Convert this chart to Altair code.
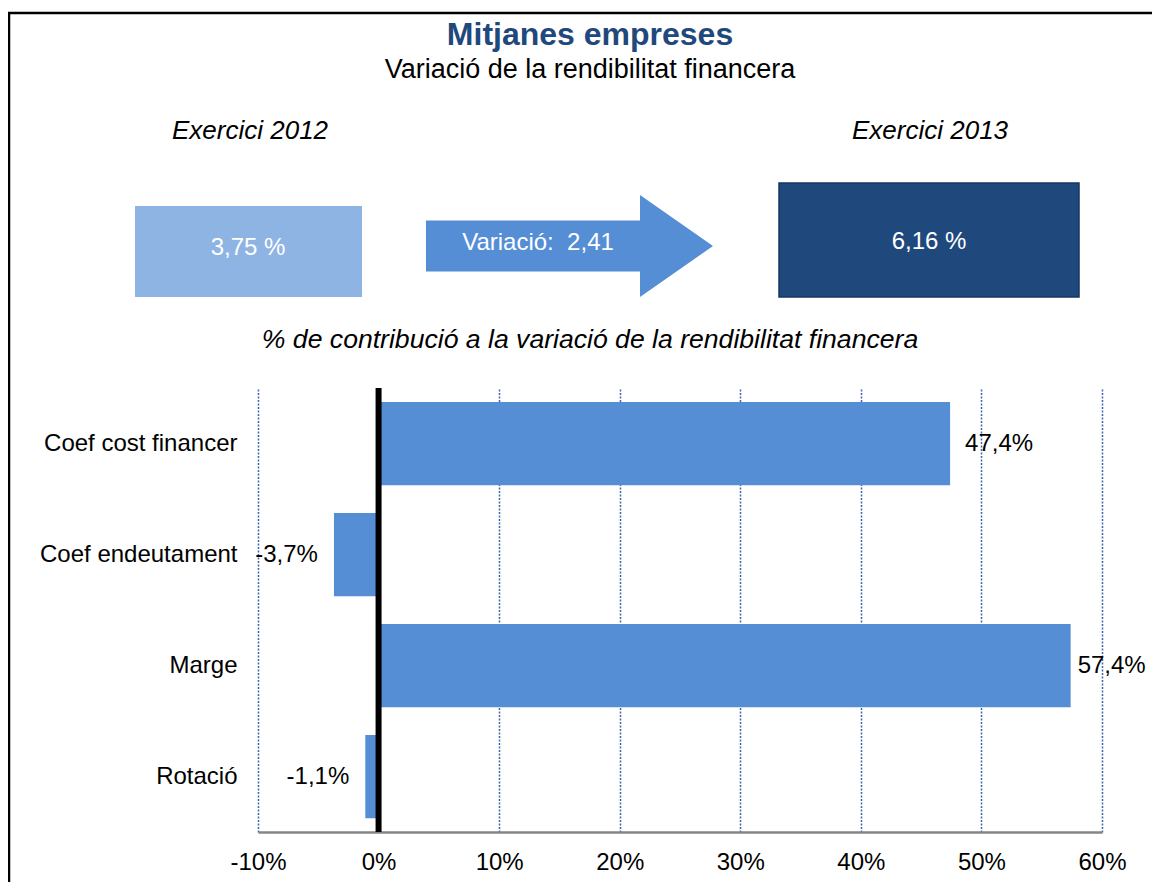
import altair as alt
import pandas as pd

# ---- data ----
categories = ["Coef cost financer", "Coef endeutament", "Marge", "Rotació"]
contrib = [47.4, -3.7, 57.4, -1.1]
tick_values = [-10, 0, 10, 20, 30, 40, 50, 60]
rend_2012 = 3.75
rend_2013 = 6.16
variacio = 2.41

FONT = "Liberation Sans"
BAR = "#558ED5"

def pct_label(v):
    return f"{v:.1f}".replace(".", ",") + "%"

df = pd.DataFrame({
    "cat": categories,
    "val": contrib,
    "lab": [pct_label(v) for v in contrib],
})

one = pd.DataFrame({"k": [0]})

x_scale = alt.Scale(domain=[-10, 60], nice=False, zero=False)
y_enc = alt.Y("cat:N", sort=categories, title=None,
              scale=alt.Scale(paddingInner=0.25, paddingOuter=0.125),
              axis=alt.Axis(domain=False, ticks=False, labelFontSize=24,
                            labelFont=FONT, labelColor="black", labelLimit=400,
                            labelPadding=21, grid=False))

bars = alt.Chart(df).mark_bar(color=BAR).encode(
    x=alt.X("val:Q", scale=x_scale, title=None,
            axis=alt.Axis(values=tick_values, labelExpr="datum.value + '%'",
                          labelFlush=False, labelOverlap=False,
                          grid=True, gridDash=[2, 1.5], gridColor="#3B67B0",
                          gridWidth=1.5, domain=True, domainColor="#868686",
                          domainWidth=2.5, ticks=False, labelFontSize=24,
                          labelFont=FONT, labelColor="black", labelPadding=18)),
    y=y_enc,
)

zero = alt.Chart(pd.DataFrame({"z": [0]})).mark_rule(color="black", strokeWidth=6).encode(
    x=alt.X("z:Q", scale=x_scale, title=None)
)

def value_labels(flt, align, dx):
    return alt.Chart(df).transform_filter(flt).mark_text(
        align=align, baseline="middle", dx=dx, fontSize=24, font=FONT, color="black"
    ).encode(x=alt.X("val:Q", scale=x_scale, title=None),
             y=alt.Y("cat:N", sort=categories, title=None), text="lab:N")

# labels outside bar end; the one near the right edge is pulled in (as in the original)
lab_pos = value_labels("datum.val >= 0 && datum.val <= 55", "left", 15)
lab_edge = value_labels("datum.val > 55", "left", 7)
lab_neg = value_labels("datum.val < 0", "right", -16)

# ---- decorations (pixel offsets relative to plot origin) ----
border = alt.Chart(one).mark_rect(fill=None, stroke="black", strokeWidth=2.5).encode(
    x=alt.value(-249), x2=alt.value(930), y=alt.value(-375), y2=alt.value(540)
)

def txt(t, x, y, size, italic=False, bold=False, color="black"):
    return alt.Chart(one).mark_text(
        text=t, align="center", baseline="middle", fontSize=size, font=FONT,
        fontStyle="italic" if italic else "normal",
        fontWeight="bold" if bold else "normal", color=color,
    ).encode(x=alt.value(x), y=alt.value(y))

title = txt("Mitjanes empreses", 332, -353, 32, bold=True, color="#1F497D")
subtitle = txt("Variació de la rendibilitat financera", 332, -318, 27)
ex12 = txt("Exercici 2012", -8, -257, 26, italic=True)
ex13 = txt("Exercici 2013", 672, -257, 26, italic=True)
section = txt("% de contribució a la variació de la rendibilitat financera", 332, -48, 26.6, italic=True)

box12 = alt.Chart(one).mark_rect(color="#8EB4E3").encode(
    x=alt.value(-123), x2=alt.value(104), y=alt.value(-182), y2=alt.value(-91)
)
box13 = alt.Chart(one).mark_rect(color="#1F497D", stroke="#17375E", strokeWidth=1.5).encode(
    x=alt.value(521), x2=alt.value(821), y=alt.value(-205), y2=alt.value(-91)
)
arrow_path = "M-2.932,-0.349L0,-0.349L0,-0.699L1,0L0,0.699L0,0.349L-2.932,0.349Z"
arrow = alt.Chart(one).mark_point(shape=arrow_path, size=146 * 146, filled=True,
                                   opacity=1, color=BAR, strokeWidth=0).encode(
    x=alt.value(382), y=alt.value(-142)
)
t12 = txt(f"{rend_2012:.2f}".replace(".", ",") + " %", -10, -140, 24, color="white")
t13 = txt(f"{rend_2013:.2f}".replace(".", ",") + " %", 671, -146, 24, color="white")
tvar = txt("Variació:\u00a0 " + f"{variacio:.2f}".replace(".", ","), 280, -145, 24, color="white")

chart = alt.layer(
    border, title, subtitle, ex12, ex13, box12, box13, arrow, t12, t13, tvar, section,
    bars, zero, lab_pos, lab_edge, lab_neg
).properties(
    width=844, height=444,
    autosize=alt.AutoSizeParams(type="none"),
    padding={"left": 250, "top": 380, "right": 50, "bottom": 50},
    background="white",
).configure_view(stroke=None)

chart.save("out.html", embed_options={"renderer": "svg", "actions": False})
